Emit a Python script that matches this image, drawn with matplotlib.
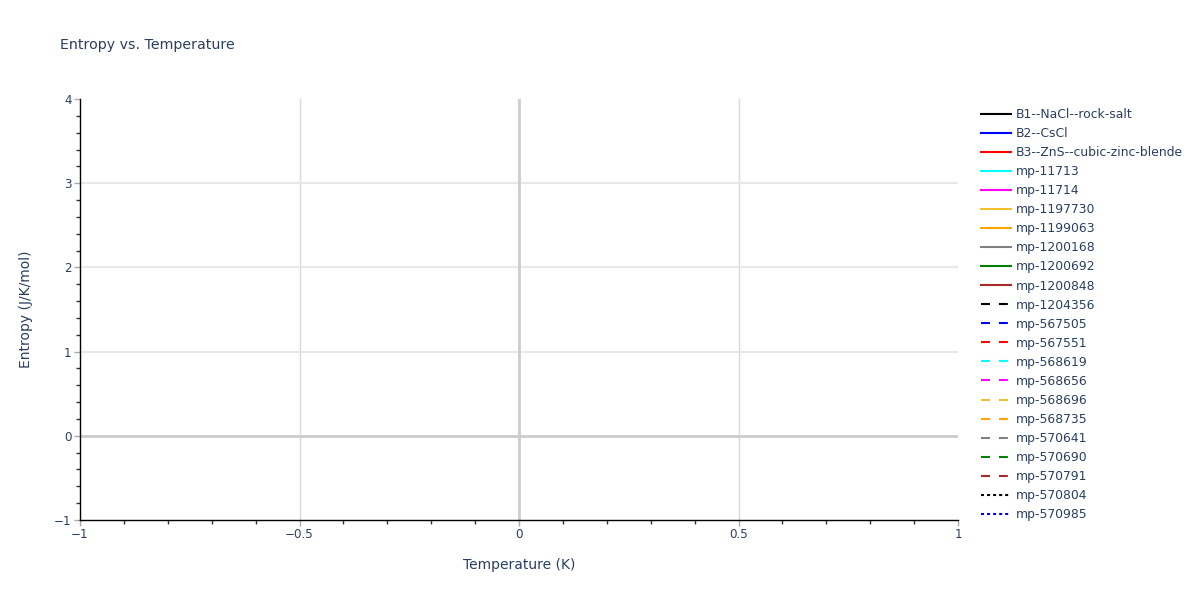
import matplotlib
matplotlib.use("Agg")
import matplotlib.pyplot as plt
from matplotlib.ticker import MultipleLocator, FuncFormatter

# Series names, colours and line styles (all traces are empty in the reference)
names = ["B1--NaCl--rock-salt", "B2--CsCl", "B3--ZnS--cubic-zinc-blende",
         "mp-11713", "mp-11714", "mp-1197730", "mp-1199063", "mp-1200168",
         "mp-1200692", "mp-1200848", "mp-1204356", "mp-567505", "mp-567551",
         "mp-568619", "mp-568656", "mp-568696", "mp-568735", "mp-570641",
         "mp-570690", "mp-570791", "mp-570804", "mp-570985"]
palette = ["black", "blue", "red", "cyan", "magenta", "#f0c030", "orange",
           "gray", "green", "brown"]
styles = ["solid"] * 10 + ["dashed"] * 10 + ["dotted"] * 2
temperature = [[] for _ in names]
entropy = [[] for _ in names]

x_range = (-1, 1)
y_range = (-1, 4)

text_col = "#2a3f5f"
plt.rcParams['font.family'] = ['DejaVu Sans']

fig = plt.figure(figsize=(12, 6), dpi=100)
ax = fig.add_axes([80 / 1200, 1 - 520 / 600, 878 / 1200, 421 / 600])

dash_map = {"solid": "-", "dashed": (0, (4.3, 4.3)), "dotted": (0, (1.45, 1.45))}
for i, name in enumerate(names):
    ax.plot(temperature[i], entropy[i], color=palette[i % len(palette)],
            linestyle=dash_map[styles[i]], lw=1.5, label=name)

ax.set_xlim(*x_range)
ax.set_ylim(*y_range)
ax.xaxis.set_major_locator(MultipleLocator(0.5))
ax.xaxis.set_minor_locator(MultipleLocator(0.1))
ax.yaxis.set_major_locator(MultipleLocator(1))
ax.yaxis.set_minor_locator(MultipleLocator(0.2))


def fmt(v, pos):
    s = f"{v:g}"
    return s.replace("-", "\u2212")


ax.xaxis.set_major_formatter(FuncFormatter(fmt))
ax.yaxis.set_major_formatter(FuncFormatter(fmt))

ax.grid(False)
for v in [-0.5, 0.5]:
    ax.axvline(v, color="#d9d9d9", lw=1, zorder=0)
for v in [1, 2, 3]:
    ax.axhline(v, color="#e8e8e8", lw=1.5, zorder=0)
ax.axvline(0, color="#cccccc", lw=2, zorder=0)
ax.axhline(0, color="#cccccc", lw=2, zorder=0)

for s in ["top", "right"]:
    ax.spines[s].set_visible(False)
for s in ["left", "bottom"]:
    ax.spines[s].set_color("black")
    ax.spines[s].set_linewidth(1)

ax.tick_params(which="major", length=4, width=1, color="#aaaaaa",
               labelcolor=text_col, labelsize=8.6, pad=2)
ax.tick_params(which="minor", length=3, width=1, color="#333333")

ax.set_xlabel("Temperature (K)", color=text_col, fontsize=10, labelpad=12)
ax.set_ylabel("Entropy (J/K/mol)", color=text_col, fontsize=10, labelpad=15)
fig.text(60 / 1200, 1 - 45 / 600, "Entropy vs. Temperature", color=text_col,
         fontsize=10.2, va="center", ha="left")

leg = fig.legend(loc="upper left", bbox_to_anchor=(981 / 1200, 1 - 108 / 600),
                 frameon=False, fontsize=8.9, handlelength=2.4,
                 handletextpad=0.45, labelspacing=0.49, borderaxespad=0,
                 borderpad=0)
for t in leg.get_texts():
    t.set_color(text_col)

fig.savefig("out.png", dpi=100)
